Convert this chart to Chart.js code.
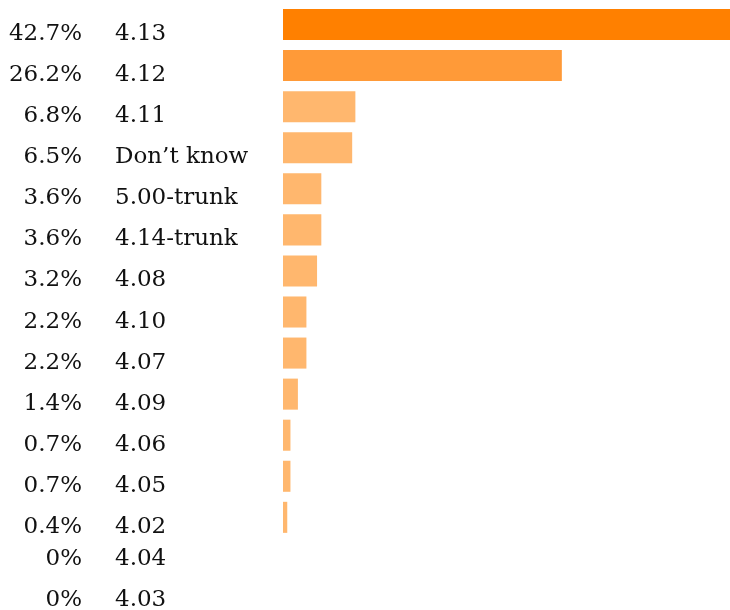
<!DOCTYPE html>
<html>
<head>
<meta charset="utf-8">
<script src="https://cdn.jsdelivr.net/npm/chart.js@4"></script>
<style>
  html, body { margin: 0; padding: 0; background: #fff; overflow: hidden; }
  #wrap { width: 730px; height: 621px; }
</style>
</head>
<body>
<div id="wrap"><canvas id="versionsChart" width="730" height="621"></canvas></div>
<script>
const versions = ["4.13", "4.12", "4.11", "Don\u2019t know", "5.00-trunk", "4.14-trunk",
    "4.08", "4.10", "4.07", "4.09", "4.06", "4.05", "4.02", "4.04", "4.03"];
const shares = [42.7, 26.2, 6.8, 6.5, 3.6, 3.6, 3.2, 2.2, 2.2, 1.4, 0.7, 0.7, 0.4, 0, 0];
const shareLabels = ["42.7%", "26.2%", "6.8%", "6.5%", "3.6%", "3.6%", "3.2%", "2.2%",
    "2.2%", "1.4%", "0.7%", "0.7%", "0.4%", "0%", "0%"];
const barColors = ["#ff8000", "#ff9a38", "#ffb76e", "#ffb76e", "#ffb76e", "#ffb76e",
    "#ffb76e", "#ffb76e", "#ffb76e", "#ffb76e", "#ffb76e", "#ffb76e", "#ffb76e",
    "#ffb76e", "#ffb76e"];

// draws the two text columns next to each row
const rowLabels = {
    id: "rowLabels",
    afterDraw(chart) {
        const ctx = chart.ctx;
        const y = chart.scales.y;
        ctx.save();
        ctx.font = "23px 'DejaVu Serif'";
        ctx.fillStyle = "#111";
        versions.forEach((v, i) => {
            const cy = y.getPixelForValue(i);
            let ty = cy + 15.5;
            ctx.textBaseline = "alphabetic";
            if (shares[i] === 0) {
                ty = cy + 1;
                ctx.textBaseline = "middle";
            }
            ctx.textAlign = "right";
            ctx.fillText(shareLabels[i], 82, ty);
            ctx.textAlign = "left";
            ctx.fillText(v, 115, ty);
        });
        ctx.restore();
    }
};

new Chart(document.getElementById("versionsChart"), {
    type: "bar",
    data: {
        labels: versions,
        datasets: [{
            data: shares,
            backgroundColor: barColors,
            borderWidth: 0,
            barPercentage: 0.756,
            categoryPercentage: 1,
        }],
    },
    options: {
        indexAxis: "y",
        responsive: false,
        animation: false,
        layout: { padding: { left: 283, top: 4, right: 0, bottom: 1 } },
        plugins: { legend: { display: false }, tooltip: { enabled: false } },
        scales: {
            // top bar runs to the edge, the rest scale a bit wider than 42.7
            x: { display: false, min: 0, max: 42 },
            y: { display: false },
        },
    },
    plugins: [rowLabels],
});
</script>
</body>
</html>
